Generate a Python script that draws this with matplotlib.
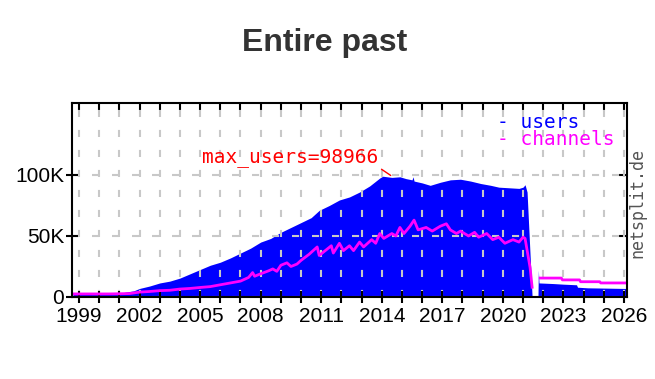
import numpy as np
import matplotlib.pyplot as plt
from matplotlib.ticker import MultipleLocator, FuncFormatter

# users (fill), in thousands
users_year = [1998.7, 1999.0, 2000.0, 2001.0, 2001.3, 2001.7, 2002.0, 2002.5, 2003.0, 2003.5,
              2004.0, 2004.5, 2005.0, 2005.5, 2006.0, 2006.5, 2007.0, 2007.5, 2008.0, 2008.5,
              2009.0, 2009.5, 2010.0, 2010.5, 2010.9, 2011.4, 2011.9, 2012.4, 2012.9, 2013.4,
              2013.9, 2014.05, 2014.5, 2014.9, 2015.2, 2015.5, 2015.55, 2015.6, 2016.0, 2016.4,
              2016.9, 2017.4, 2017.9, 2018.4, 2018.9, 2019.4, 2019.8, 2020.3, 2020.8, 2021.0,
              2021.1, 2021.2, 2021.35, 2021.45, 2021.74, 2021.76, 2021.79, 2021.82, 2022.5, 2023.0,
              2023.65, 2023.7, 2024.2, 2025.0, 2026.0, 2026.15]
users_k = [2.5, 2.5, 2.6, 2.8, 4.0, 5.0, 7.0, 9.0, 11.5, 13.0,
           15.5, 19.0, 22.5, 26.0, 28.5, 32.0, 36.0, 40.0, 45.0, 48.0,
           53.0, 57.0, 61.0, 65.0, 71.0, 75.0, 79.5, 82.0, 86.0, 91.0,
           97.5, 98.966, 98.0, 98.5, 97.0, 96.0, 98.5, 95.0, 93.5, 91.5,
           94.0, 96.0, 96.5, 95.0, 93.0, 91.5, 90.0, 89.5, 89.0, 90.0,
           92.0, 86.0, 34.0, 0.0, 0.0, 22.0, 11.5, 11.5, 11.0, 10.5,
           10.0, 8.0, 7.5, 7.3, 7.0, 7.0]

# channels (line), in thousands; nan = gap
chan_year = [1998.7, 1999.5, 2000.5, 2001.5, 2002.0, 2002.5, 2003.0, 2003.5, 2004.0, 2004.5,
             2005.0, 2005.5, 2006.0, 2006.5, 2007.0, 2007.4, 2007.6, 2007.7, 2008.0, 2008.4,
             2008.6, 2008.8, 2009.0, 2009.3, 2009.5, 2009.8, 2010.0, 2010.4, 2010.8, 2010.9,
             2011.2, 2011.5, 2011.6, 2011.9, 2012.1, 2012.4, 2012.6, 2012.9, 2013.1, 2013.5,
             2013.7, 2013.9, 2014.1, 2014.5, 2014.7, 2014.9, 2015.1, 2015.4, 2015.6, 2015.8,
             2016.2, 2016.5, 2016.9, 2017.2, 2017.4, 2017.7, 2017.9, 2018.3, 2018.6, 2018.8,
             2019.2, 2019.5, 2019.8, 2020.1, 2020.5, 2020.8, 2021.0, 2021.1, 2021.2, 2021.35,
             2021.45, 2021.6, 2021.85, 2022.9, 2022.95, 2023.8, 2023.85, 2024.8, 2024.85, 2026.15]
chan_k = [2.5, 2.5, 2.5, 2.8, 4.0, 4.5, 5.2, 5.5, 6.5, 7.0,
          7.8, 8.5, 10.0, 11.5, 13.0, 16.0, 20.0, 17.0, 19.0, 21.5,
          23.0, 21.0, 26.0, 28.0, 25.0, 27.0, 30.0, 35.0, 41.0, 34.0,
          38.0, 42.0, 36.0, 44.0, 38.0, 42.0, 38.0, 45.0, 41.0, 47.0,
          44.0, 52.0, 48.0, 52.0, 50.0, 57.0, 52.0, 58.0, 63.0, 55.0,
          57.0, 54.0, 58.0, 60.0, 55.0, 52.0, 54.0, 50.0, 53.0, 49.0,
          52.0, 47.0, 49.0, 44.0, 47.0, 45.0, 49.0, 48.0, 38.5, 24.0,
          8.0, np.nan, 15.5, 15.5, 14.0, 14.0, 12.5, 12.5, 11.5, 11.5]

max_users = 98966
year_labels = list(range(1999, 2027, 3))

fig = plt.figure(figsize=(6.55, 3.79), dpi=100)
ax = fig.add_axes([0.1099, 0.2164, 0.8473, 0.5119])

ux = np.array(users_year)
uy = np.array(users_k) * 1000
ax.fill_between(ux, 0, uy, color='#0000ff', lw=0, zorder=1)
ax.plot(chan_year, np.array(chan_k) * 1000, color='#ff00ff', lw=2.0, zorder=3)

ax.set_xlim(1998.65, 2026.15)
ax.set_ylim(0, 159000)

ax.xaxis.set_minor_locator(MultipleLocator(1))
ax.set_xticks(year_labels)
ax.set_yticks([0, 50000, 100000])
ax.yaxis.set_major_formatter(FuncFormatter(lambda v, p: '0' if v == 0 else '%dK' % (v / 1000)))

ax.set_axisbelow(False)
dash = (0, (3.4, 6.2))
ax.grid(True, axis='x', which='both', color='#c8c8c8', lw=1.5, linestyle=dash)
ax.grid(True, axis='y', which='major', color='#c8c8c8', lw=1.5, linestyle=dash)

for s in ax.spines.values():
    s.set_linewidth(1.5)
    s.set_zorder(4)
ax.tick_params(axis='both', which='both', direction='inout', length=9, width=1.5,
               labelsize=15)
ax.tick_params(axis='x', pad=3)
ax.tick_params(axis='y', pad=1)
for lab in ax.get_xticklabels() + ax.get_yticklabels():
    lab.set_family('Liberation Sans')

# inward ticks on top and right
top = ax.secondary_xaxis('top')
top.xaxis.set_minor_locator(MultipleLocator(1))
top.set_xticks(year_labels)
top.tick_params(axis='x', which='both', direction='in', length=5, width=1.5, labeltop=False)
top.spines['top'].set_visible(False)
right = ax.secondary_yaxis('right')
right.set_yticks([50000, 100000])
right.tick_params(axis='y', direction='in', length=6, width=1.5, labelright=False)
right.spines['right'].set_visible(False)

ax.annotate('max_users=%d' % max_users, xy=(2014.5, max_users), xytext=(2013.85, 114000),
            ha='right', va='center', color='#ff0000', fontsize=14, family='DejaVu Sans Mono',
            arrowprops=dict(arrowstyle='-', color='#ff0000', lw=1, relpos=(1, 0),
                            shrinkA=0, shrinkB=1),
            zorder=5)

ax.text(0.765, 0.9, '- users', transform=ax.transAxes, color='#0000ff', fontsize=14,
        family='DejaVu Sans Mono', va='center', ha='left')
ax.text(0.765, 0.81, '- channels', transform=ax.transAxes, color='#ff00ff', fontsize=14,
        family='DejaVu Sans Mono', va='center', ha='left')

fig.text(637 / 655, 1 - 203 / 379, 'netsplit.de', rotation=90, color='#555555', fontsize=12,
         family='DejaVu Sans Mono', ha='center', va='center')

fig.text(325 / 655, 1 - 43 / 379, 'Entire past', ha='center', va='center', fontsize=23,
         fontweight='bold', color='#333333', family='Liberation Sans')

fig.savefig('out.png', dpi=100)
